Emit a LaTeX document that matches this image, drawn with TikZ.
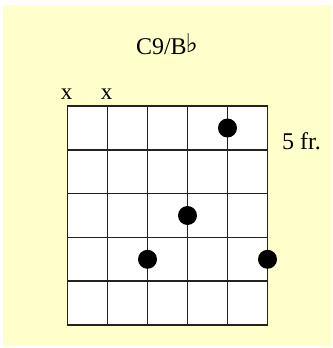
\documentclass[tikz,border=0pt]{standalone}
\usepackage{fontspec}
\setmainfont{Liberation Serif}
\newfontfamily\symfont{DejaVu Sans}
\definecolor{bgyellow}{HTML}{FFFFCC}
\definecolor{gridline}{HTML}{222222}
\begin{document}
\begin{tikzpicture}[x=1pt,y=-1pt,
  dot/.style={circle,fill=black,draw=none,inner sep=0pt,minimum size=19pt},
  lbl/.style={inner sep=0pt,font=\fontsize{24}{24}\selectfont},
  gridl/.style={line width=1.6pt,draw=gridline,line cap=rect}]
\useasboundingbox (0,0) rectangle (332,348);
\fill[white] (0,0) rectangle (332,348);
\fill[bgyellow] (3,5) rectangle (332,346);
\fill[white] (67.5,106) rectangle (267.5,325);
\foreach \i in {0,...,5} \draw[gridl] (67.5+40*\i,106) -- (67.5+40*\i,325);
\foreach \j in {0,...,5} \draw[gridl] (67.5,106+43.8*\j) -- (267.5,106+43.8*\j);
\node[dot] (d5) at (227.5,128) {};
\node[dot] (d4) at (187.5,215.5) {};
\node[dot] (d3) at (147.5,259.3) {};
\node[dot] (d6) at (267.5,259.3) {};
\node[lbl] (title) at (167,44) {C9/B\kern-1pt\raisebox{2pt}{\symfont\fontsize{26}{26}\selectfont ♭}};
\node[lbl,font=\fontsize{23}{23}\selectfont] (x1) at (66.5,94) {x};
\node[lbl,font=\fontsize{23}{23}\selectfont] (x2) at (106.5,94) {x};
\node[lbl,anchor=west] (fr) at (282,141) {5 fr.};
\end{tikzpicture}
\end{document}
